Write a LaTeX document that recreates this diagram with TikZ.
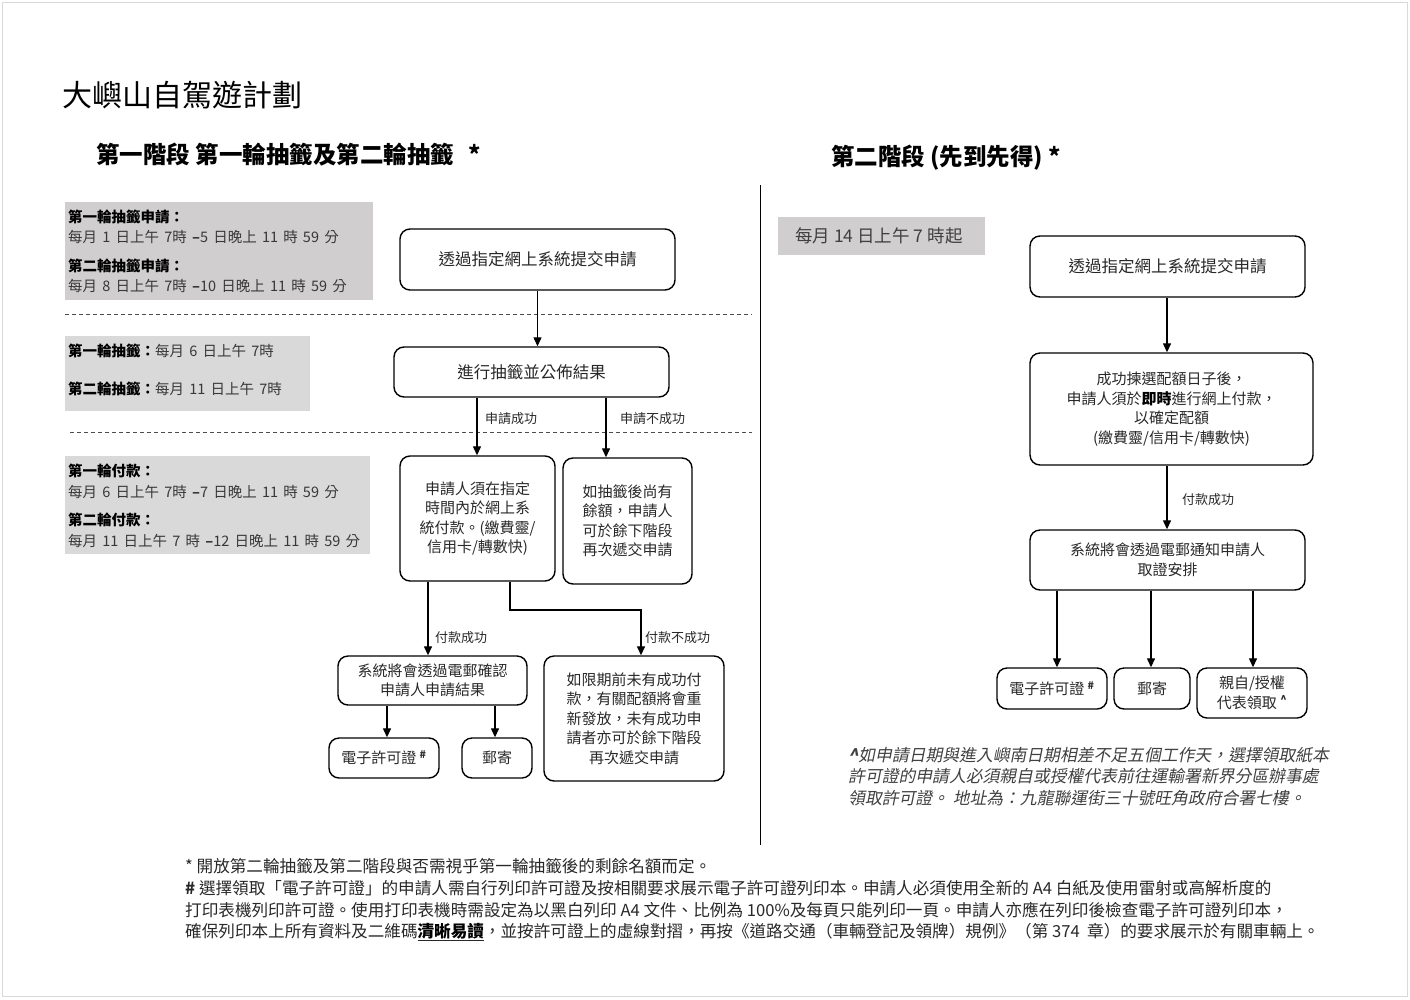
\documentclass[tikz,border=0pt]{standalone}
\usepackage{fontspec}
\setmainfont{Noto Sans CJK TC}
\newfontfamily\itcjk{Noto Sans CJK TC}[FakeSlant=0.2]
\usetikzlibrary{arrows.meta}
\definecolor{gA}{RGB}{208,206,206}
\definecolor{gB}{RGB}{217,217,217}
\definecolor{ink}{RGB}{40,40,40}
\newcommand\widespaces{\spaceskip=5.2pt plus 1pt\relax}
\begin{document}
\begin{tikzpicture}[x=1pt,y=-1pt,
  txt/.style={inner sep=0pt, anchor=west},
  gtxt/.style={inner sep=0pt, anchor=west, font=\fontsize{14.5}{17}\selectfont\widespaces, text=black!78},
  box/.style={draw, line width=1.4pt, rounded corners=10pt, align=center, inner sep=0pt, text=ink},
  arr/.style={line width=1.3pt, -{Triangle[length=9pt,width=8pt]}},
  lbl/.style={inner sep=0pt, anchor=west, font=\fontsize{13}{15}\selectfont, text=ink},
  bt/.style={font=\fontsize{15}{19.5}\selectfont},
  big/.style={font=\fontsize{16.5}{20}\selectfont},
  foot/.style={inner sep=0pt, anchor=west, font=\fontsize{16.6}{20}\selectfont, text=ink},
  note/.style={inner sep=0pt, anchor=west, font=\fontsize{16.8}{20}\itcjk, text=black!75},
  dline/.style={line width=0.8pt, dash pattern=on 4pt off 3pt, black!70},
  ]
\useasboundingbox (0,0) rectangle (1410,999);
\draw[gray!30, line width=1pt] (2.5,2.5) rectangle (1407.5,996.5);

% titles
\node[txt, font=\fontsize{30}{36}\selectfont] (title) at (62,95) {大嶼山自駕遊計劃};
\node[txt, font=\fontsize{23.5}{28}\selectfont\bfseries] (h1) at (96,155) {第一階段\ 第一輪抽籤及第二輪抽籤\ \ \,*};
\node[txt, font=\fontsize{23.5}{28}\selectfont\bfseries] (h2) at (831,158) {第二階段\ (先到先得) *};

% divider and dashed separators
\draw[line width=1pt] (760,185) -- (760,845);
\draw[dline] (65,314) -- (752,314);
\draw[dline] (70,432) -- (752,432);

% left gray boxes
\fill[gA] (65,202) rectangle (373,300);
\node[gtxt, text=black] (g1a) at (68,217) {\textbf{第一輪抽籤申請：}};
\node[gtxt] (g1b) at (68,237) {每月 1 日上午 7時 \textbf{–}5 日晚上 11 時 59 分};
\node[gtxt, text=black] (g1c) at (68,266) {\textbf{第二輪抽籤申請：}};
\node[gtxt] (g1d) at (68,286) {每月 8 日上午 7時 \textbf{–}10 日晚上 11 時 59 分};

\fill[gB] (65,336) rectangle (310,411);
\node[gtxt] (g2a) at (68,351) {\textcolor{black}{\textbf{第一輪抽籤：}}每月 6 日上午 7時};
\node[gtxt] (g2b) at (68,389) {\textcolor{black}{\textbf{第二輪抽籤：}}每月 11 日上午 7時};

\fill[gB] (65,456) rectangle (370,554);
\node[gtxt, text=black] (g3a) at (68,471) {\textbf{第一輪付款：}};
\node[gtxt] (g3b) at (68,492) {每月 6 日上午 7時 \textbf{–}7 日晚上 11 時 59 分};
\node[gtxt, text=black] (g3c) at (68,520) {\textbf{第二輪付款：}};
\node[gtxt] (g3d) at (68,541) {每月 11 日上午 7 時 \textbf{–}12 日晚上 11 時 59 分};

% left flow
\node[box, big, minimum width=275pt, minimum height=61pt] (A) at (537.5,259.5) {透過指定網上系統提交申請};
\node[box, big, minimum width=275pt, minimum height=50pt] (B) at (531.5,372) {進行抽籤並公佈結果};
\node[box, bt, minimum width=155pt, minimum height=125pt] (C) at (477.5,518.5) {申請人須在指定\\時間內於網上系\\統付款。(繳費靈/\\信用卡/轉數快)};
\node[box, bt, minimum width=129pt, minimum height=126pt] (D) at (627.5,521) {如抽籤後尚有\\餘額，申請人\\可於餘下階段\\再次遞交申請};
\node[box, bt, minimum width=189pt, minimum height=49pt] (E) at (432.5,680.5) {系統將會透過電郵確認\\申請人申請結果};
\node[box, bt, minimum width=180pt, minimum height=125pt] (F) at (634,718.5) {如限期前未有成功付\\款，有關配額將會重\\新發放，未有成功申\\請者亦可於餘下階段\\再次遞交申請};
\node[box, bt, minimum width=110pt, minimum height=40pt] (G) at (384,758) {電子許可證 \textsuperscript{\textbf{\#}}};
\node[box, bt, minimum width=70pt, minimum height=40pt] (H) at (497,758) {郵寄};

\coordinate (x477) at (477,0);
\coordinate (x606) at (606,0);
\coordinate (x428) at (428,0);
\coordinate (x510) at (510,0);
\coordinate (bend) at (641,610);
\coordinate (x387) at (387,0);
\coordinate (x495) at (495,0);

\draw[arr] (A.south) -- (A.south |- B.north);
\draw[arr] (B.south -| x477) -- (C.north -| x477);
\draw[arr] (B.south -| x606) -- (D.north -| x606);
\draw[arr] (C.south -| x428) -- (E.north -| x428);
\draw[arr] (C.south -| x510) |- (bend) -- (F.north -| bend);
\draw[arr] (E.south -| x387) -- (G.north -| x387);
\draw[arr] (E.south -| x495) -- (H.north -| x495);

\node[lbl] (l1) at (485,419) {申請成功};
\node[lbl] (l2) at (620,419) {申請不成功};
\node[lbl] (l3) at (435,638) {付款成功};
\node[lbl] (l4) at (645,638) {付款不成功};

% right side
\fill[gA] (778,217) rectangle (985,255);
\node[txt, font=\fontsize{17.5}{20}\selectfont, text=black!75] (rg) at (795,236) {每月 14 日上午 7 時起};

\node[box, big, minimum width=275pt, minimum height=61pt] (R1) at (1167.5,266.5) {透過指定網上系統提交申請};
\node[box, bt, minimum width=283pt, minimum height=112pt] (R2) at (1171.5,409) {成功揀選配額日子後，\\申請人須於\textbf{\textcolor{black}{即時}}進行網上付款，\\以確定配額\\(繳費靈/信用卡/轉數快)};
\node[box, bt, minimum width=275pt, minimum height=60pt] (R3) at (1167.5,560) {系統將會透過電郵通知申請人\\取證安排};
\node[box, bt, minimum width=110pt, minimum height=41pt] (R4) at (1052,688.5) {電子許可證 \textsuperscript{\textbf{\#}}};
\node[box, bt, minimum width=76pt, minimum height=41pt] (R5) at (1152,688.5) {郵寄};
\node[box, bt, minimum width=110pt, minimum height=50pt] (R6) at (1252,693) {親自/授權\\代表領取 \textsuperscript{\textbf{\textasciicircum}}};

\coordinate (x1167) at (1167,0);
\coordinate (x1057) at (1057,0);
\coordinate (x1151) at (1151,0);
\coordinate (x1253) at (1253,0);
\draw[arr] (R1.south -| x1167) -- (R2.north -| x1167);
\draw[arr] (R2.south -| x1167) -- (R3.north -| x1167);
\draw[arr] (R3.south -| x1057) -- (R4.north -| x1057);
\draw[arr] (R3.south -| x1151) -- (R5.north -| x1151);
\draw[arr] (R3.south -| x1253) -- (R6.north -| x1253);
\node[lbl] (l5) at (1182,500) {付款成功};

% note
\node[note] (n1) at (848,755) {\textbf{\textasciicircum}如申請日期與進入嶼南日期相差不足五個工作天，選擇領取紙本};
\node[note] (n2) at (848,776) {許可證的申請人必須親自或授權代表前往運輸署新界分區辦事處};
\node[note] (n3) at (848,798) {領取許可證。\ 地址為：九龍聯運街三十號旺角政府合署七樓。};

% footer
\node[foot] (f1) at (185,866) {*\ 開放第二輪抽籤及第二階段與否需視乎第一輪抽籤後的剩餘名額而定。};
\node[foot] (f2) at (185,888) {\textbf{\#}\ 選擇領取「電子許可證」的申請人需自行列印許可證及按相關要求展示電子許可證列印本。申請人必須使用全新的 A4 白紙及使用雷射或高解析度的};
\node[foot] (f3) at (185,910) {打印表機列印許可證。使用打印表機時需設定為以黑白列印 A4 文件、比例為 100\%及每頁只能列印一頁。申請人亦應在列印後檢查電子許可證列印本，};
\node[foot] (f4) at (185,932) {確保列印本上所有資料及二維碼\underline{\textbf{\textcolor{black}{清晰易讀}}}，並按許可證上的虛線對摺，再按《道路交通（車輛登記及領牌）規例》（第 374\ \ 章）的要求展示於有關車輛上。};
\end{tikzpicture}
\end{document}
